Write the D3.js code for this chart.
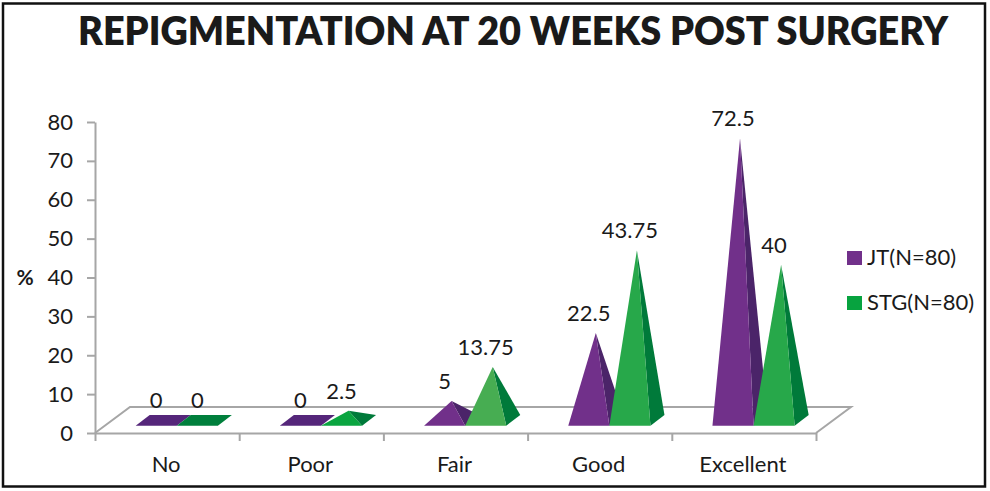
<!DOCTYPE html>
<html><head><meta charset="utf-8">
<script src="https://cdn.jsdelivr.net/npm/d3@7/dist/d3.min.js"></script>
<style>
html,body{margin:0;padding:0;background:#fff}
svg{display:block}
text{font-family:Lato,sans-serif;fill:#1a1a1a}
</style></head><body>
<script>
const categories = ["No","Poor","Fair","Good","Excellent"];
const jtValues = [0,0,5,22.5,72.5];
const stgValues = [0,2.5,13.75,43.75,40];
const yTicks = [0,10,20,30,40,50,60,70,80];
const seriesNames = ["JT(N=80)","STG(N=80)"];
const titleText = "REPIGMENTATION AT 20 WEEKS POST SURGERY";
const jtFront = "#71308a", jtSide = "#4b2469", jtFlat = "#55267a";
const stgFrontByCat = ["#0aa540","#0aa540","#47ad52","#27a84a","#27a84a"];
const stgSide = "#007a3a", stgFlat = "#007f3c";

const W = 990, H = 491;
const svg = d3.select("body").append("svg").attr("width",W).attr("height",H);
svg.append("rect").attr("x",3).attr("y",3.5).attr("width",982).attr("height",483)
  .attr("fill","#fff").attr("stroke","#111").attr("stroke-width",2.5);

const plot = {l:95,r:816,t:122,b:433,dx:35,dy:26};
const x = d3.scaleBand().domain(categories).range([plot.l,plot.r]);
const xTickScale = d3.scaleLinear().domain([0,categories.length]).range([plot.l,plot.r]);
const y = d3.scaleLinear().domain([0,80]).range([plot.b,plot.t]);
const gray = "#a6a6a6";

// floor
svg.append("path").attr("fill","none").attr("stroke",gray).attr("stroke-width",2)
  .attr("d",d3.line()([[plot.l,plot.b],[plot.l+plot.dx,plot.b-plot.dy],[plot.r+plot.dx,plot.b-plot.dy],[plot.r,plot.b]]));

// axes
const yAxis = svg.append("g").attr("transform",`translate(${plot.l},0)`)
  .call(d3.axisLeft(y).tickValues(yTicks).tickSize(8).tickPadding(14).tickSizeOuter(0));
const xAxis = svg.append("g").attr("transform",`translate(0,${plot.b})`)
  .call(d3.axisBottom(xTickScale).ticks(categories.length).tickSize(8).tickSizeOuter(0).tickFormat(""));
[yAxis,xAxis].forEach(g=>{
  g.selectAll("path,line").attr("stroke",gray).attr("stroke-width",2);
});
yAxis.selectAll("text").attr("font-size",22).attr("fill","#1a1a1a").style("font-family","Lato,sans-serif");

svg.selectAll(".cat").data(categories).join("text").attr("class","cat")
  .attr("x",d=>x(d)+x.bandwidth()/2-1).attr("y",472).attr("text-anchor","middle")
  .attr("font-size",22).text(d=>d);

// pyramids
const bw = x.bandwidth()*0.285, groupOff = x.bandwidth()*0.067;
const depthX = 14, frontY = y(0)-7.3, backY = y(0)-18;
const midY = (frontY+backY)/2;
function barRows(values, seriesIdx){
  return categories.map((c,i)=>{
    const x0 = x(c)+x.bandwidth()/2+groupOff+(seriesIdx-1)*bw;
    return {c,i,v:values[i],x0,x1:x0+bw,ax:x0+bw/2+depthX/2,ay:midY-(y(0)-y(values[i]))};
  });
}
function drawSeries(rows, frontFn, side, flat){
  const g = svg.append("g");
  const pt = a=>a.map(p=>p.join(",")).join(" ");
  g.selectAll(".flat").data(rows.filter(d=>d.v===0)).join("polygon").attr("class","flat")
    .attr("fill",flat)
    .attr("points",d=>pt([[d.x0,frontY],[d.x1,frontY],[d.x1+depthX,backY],[d.x0+depthX,backY]]));
  const nz = rows.filter(d=>d.v>0);
  g.selectAll(".side").data(nz).join("polygon").attr("class","side").attr("fill",side)
    .attr("points",d=>pt([[d.x1,frontY],[d.x1+depthX,backY],[d.ax,d.ay]]));
  g.selectAll(".front").data(nz).join("polygon").attr("class","front").attr("fill",d=>frontFn(d))
    .attr("points",d=>pt([[d.x0,frontY],[d.x1,frontY],[d.ax,d.ay]]));
}
const jtRows = barRows(jtValues,0), stgRows = barRows(stgValues,1);
drawSeries(jtRows,()=>jtFront,jtSide,jtFlat);
drawSeries(stgRows,d=>stgFrontByCat[d.i],stgSide,stgFlat);

// data labels
svg.selectAll(".lab").data(jtRows.concat(stgRows)).join("text").attr("class","lab")
  .attr("x",d=>d.ax-7).attr("y",d=>d.ay-20).attr("dy","0.36em").attr("text-anchor","middle")
  .attr("font-size",22).text(d=>d.v);

// title
svg.append("text").attr("x",513).attr("y",45).attr("text-anchor","middle")
  .attr("font-size",39).attr("font-weight",800).attr("fill","#111")
  .attr("textLength",870).attr("lengthAdjust","spacingAndGlyphs").text(titleText);

// y title
svg.append("text").attr("x",25).attr("y",285).attr("text-anchor","middle")
  .attr("font-size",21).attr("font-weight",700).text("%");

// legend
const legendColors = [jtFront,"#07a33f"];
const legend = svg.selectAll(".leg").data(seriesNames).join("g").attr("class","leg")
  .attr("transform",(d,i)=>`translate(847,${251+i*45})`);
legend.append("rect").attr("width",15).attr("height",14).attr("fill",(d,i)=>legendColors[i]);
legend.append("text").attr("x",20).attr("y",14).attr("font-size",22).text(d=>d);
</script>
</body></html>
